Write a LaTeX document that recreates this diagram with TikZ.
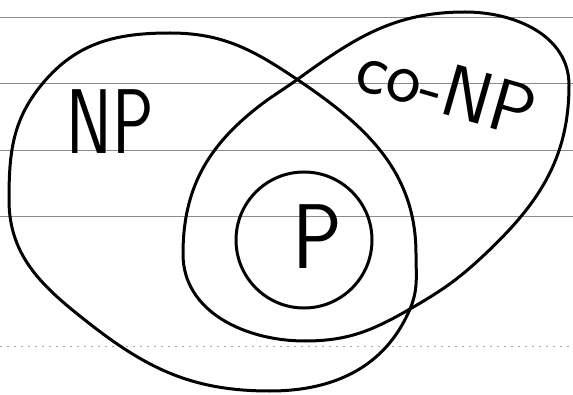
\documentclass[tikz,border=0pt]{standalone}
\usepackage{tikz}
\usetikzlibrary{positioning}

\begin{document}
\begin{tikzpicture}[
    x=1pt, y=1pt,
    lbl/.style={inner sep=0pt},
    big_font/.style={font=\sffamily\fontsize{92}{92}\selectfont},
    mid_font/.style={font=\sffamily\fontsize{74}{74}\selectfont},
    curve_style/.style={black, line width=3pt},
    rule_style/.style={black!45, line width=0.8pt},
    faint_rule/.style={black!35, line width=0.6pt, dash pattern=on 2pt off 5pt}
  ]
  \useasboundingbox (0,0) rectangle (573,394);

  % linjerat papper
  \foreach \y in {377, 311, 244, 178} {
    \draw[rule_style] (0,\y) -- (573,\y);
  }
  \draw[faint_rule] (0,48) -- (573,48);

  % stora kurvan for NP
  \def\curveNP{
    (170,361) to[out=0, in=146]
    (298,314) to[out=-34, in=90]
    (416,140) to[out=-90, in=67]
    (410,85) to[out=-113, in=0]
    (270,3) to[out=180, in=-38]
    (90,70) to[out=142, in=-90]
    (9,194) to[out=90, in=230]
    (43,311) to[out=50, in=180]
    cycle
  }

  % lutande kurvan for co-NP
  \def\curveCoNP{
    (465,382) to[out=0, in=90]
    (569,309) to[out=-90, in=43]
    (482,137) to[out=-137, in=30]
    (410,85) to[out=-150, in=0]
    (305,53) to[out=180, in=-90]
    (183,140) to[out=90, in=-142]
    (258,287) to[out=38, in=216]
    (298,315) to[out=36, in=180]
    cycle
  }

  \draw[curve_style] \curveNP;
  \draw[curve_style] \curveCoNP;

  % P i mitten
  \coordinate (PC) at (304,154);
  \draw[curve_style] (PC) circle (68);

  \node[lbl, big_font, xscale=0.75] (np_lbl) at (110,272) {NP};
  \node[lbl, mid_font, rotate=-16] (conp_lbl) at (447,305) {co-NP};
  \node[lbl, big_font, xscale=0.9] (p_lbl) at (317,157) {P};

\end{tikzpicture}
\end{document}
